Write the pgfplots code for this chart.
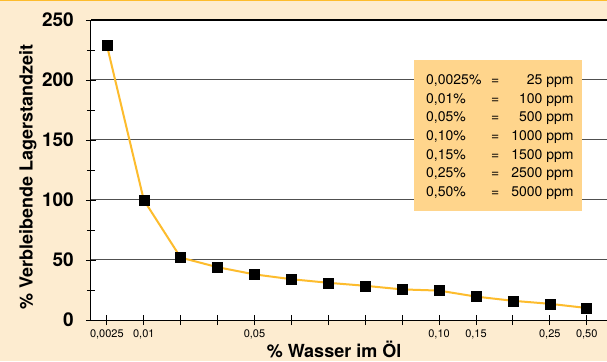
\documentclass[border=0pt]{standalone}
\usepackage{pgfplots}
\pgfplotsset{compat=1.18}
\usepackage{fontspec}
\setmainfont{TeX Gyre Heros}
\definecolor{bgcol}{RGB}{253,236,208}
\definecolor{legcol}{RGB}{255,213,140}
\definecolor{linecol}{RGB}{253,188,45}
\definecolor{gridcol}{RGB}{80,80,80}
\begin{document}
\begin{tikzpicture}
\fill[bgcol] (-91pt,-41pt) rectangle (516pt,320pt);
\path[use as bounding box] (-91pt,-41pt) rectangle (516pt,320pt);
\begin{axis}[
  scale only axis,
  width=516pt, height=300pt,
  xmin=-0.43, xmax=13.55,
  ymin=0, ymax=250,
  axis x line*=bottom, axis y line*=left,
  axis line style={line width=1pt, black},
  axis background/.style={fill=white},
  xtick={0,1,...,13},
  xticklabels={{0,0025},{0,01},,,{0,05},,,,,{0,10},{0,15},,{0,25},{0,50}},
  ytick={0,50,...,250},
  minor ytick={25,75,...,225},
  tick align=center,
  major tick length=10pt,
  minor tick length=8pt,
  tick style={black, line width=0.8pt},
  ymajorgrids,
  major grid style={gridcol, line width=1pt},
  /pgf/number format/assume math mode=true,
  yticklabel style={font=\fontsize{19}{20}\selectfont\bfseries, inner sep=0pt, xshift=-12pt},
  xticklabel style={font=\fontsize{11}{12}\selectfont, inner sep=0pt, yshift=-4pt},
  xlabel={\% Wasser im Öl},
  xlabel style={at={(axis description cs:0.471,0)}, anchor=base, yshift=-37.3pt, font=\fontsize{18}{20}\selectfont\bfseries},
  ylabel={\% Verbleibende Lagerstandzeit},
  ylabel style={at={(axis description cs:0,0.477)}, rotate=0, anchor=base, yshift=58.3pt, font=\fontsize{18}{20}\selectfont\bfseries},
]
\addplot[linecol, line width=2pt, mark=square*, mark size=5pt, mark options={black, fill=black, line width=0.5pt}]
coordinates {
(0,229) (1,100) (2,52) (3,44) (4,38) (5,34) (6,31) (7,28.5)
(8,25.5) (9,24.5) (10,19.5) (11,16) (12,13.5) (13,10)
};
\end{axis}
\draw[black, line width=2pt] (0pt,300pt) -- (516pt,300pt);
\draw[linecol, line width=1pt] (-91pt,319.5pt) -- (516pt,319.5pt);
\fill[legcol] (323pt,109.3pt) rectangle (491pt,260pt);
\node[anchor=north west, inner sep=0pt, font=\fontsize{14}{18.7}\selectfont] at (335pt,248.8pt) {%
\begin{tabular}{@{}l@{\hspace{9.7pt}}c@{\hspace{12pt}}r@{}}
0,0025\% & = & 25 ppm\\
0,01\% & = & 100 ppm\\
0,05\% & = & 500 ppm\\
0,10\% & = & 1000 ppm\\
0,15\% & = & 1500 ppm\\
0,25\% & = & 2500 ppm\\
0,50\% & = & 5000 ppm
\end{tabular}};
\end{tikzpicture}
\end{document}
